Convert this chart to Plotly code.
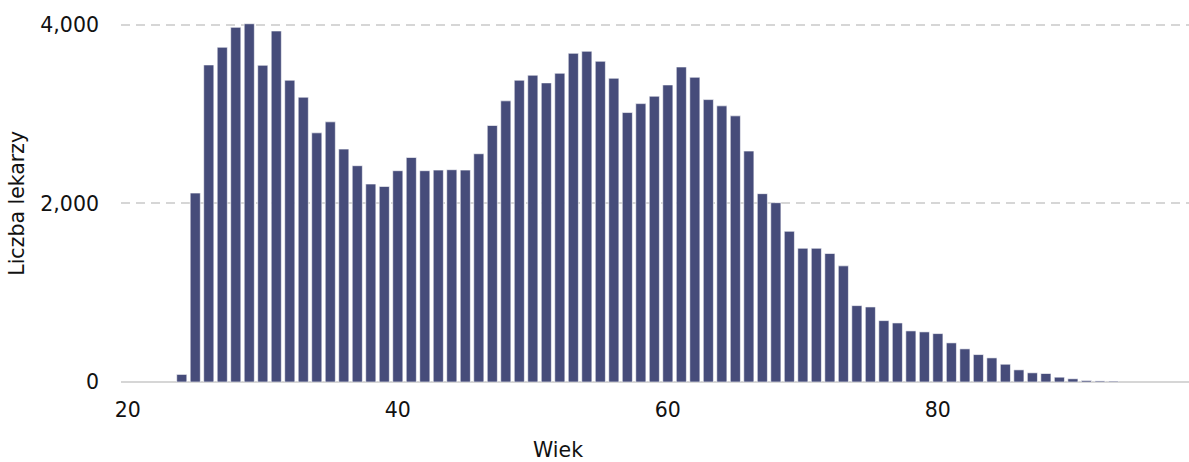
import plotly.graph_objects as go

ages = list(range(24, 94))
doctors = [
    85, 2115, 3549, 3747, 3970, 4010, 3545, 3929, 3378, 3188,   # 24-33
    2789, 2912, 2607, 2421, 2216, 2189, 2365, 2513, 2365, 2372,  # 34-43
    2376, 2372, 2555, 2871, 3147, 3378, 3434, 3348, 3456, 3679,  # 44-53
    3702, 3590, 3400, 3016, 3116, 3199, 3325, 3526, 3411, 3161,  # 54-63
    3091, 2979, 2585, 2108, 2007, 1687, 1497, 1497, 1438, 1300,  # 64-73
    855, 840, 687, 661, 572, 561, 542, 438, 371, 307,            # 74-83
    270, 199, 136, 103, 95, 54, 36, 17, 12, 10,                  # 84-93
]

x_title = "Wiek"
y_title = "Liczba lekarzy"

FONT = "DejaVu Sans"
fsize = 20.5

fig = go.Figure(go.Bar(
    x=ages, y=doctors,
    marker=dict(color="#464c7a", line=dict(color="rgba(255,255,255,0.6)", width=1)),
))

fig.update_layout(
    width=1189, height=462,
    margin=dict(l=121, r=0, t=20, b=80),
    plot_bgcolor="white", paper_bgcolor="white",
    bargap=0.25,
    showlegend=False,
    font=dict(family=FONT, size=fsize, color="#111111"),
    xaxis=dict(
        range=[19.5, 98.6], tick0=0, dtick=20,
        showgrid=False, zeroline=False, showline=False,
        ticks="", ticklabelstandoff=13,
        tickfont=dict(family=FONT, size=fsize, color="#111111"),
    ),
    yaxis=dict(
        range=[0, 4052], tick0=0, dtick=2000, tickformat=",",
        showgrid=True, gridcolor="#d6d6d6", gridwidth=2, griddash="9px,6px",
        zeroline=True, zerolinecolor="#d6d6d6", zerolinewidth=2,
        showline=False, ticks="", ticklabelstandoff=21,
        tickfont=dict(family=FONT, size=fsize, color="#111111"),
    ),
    annotations=[
        dict(text=x_title, xref="paper", yref="paper", x=(558 - 121) / 1068,
             y=(382.5 - 451) / 362.5, xanchor="center", yanchor="middle",
             showarrow=False, font=dict(family=FONT, size=fsize, color="#111111")),
        dict(text=y_title, xref="paper", yref="paper", x=(17 - 121) / 1068,
             y=(382.5 - 204) / 362.5, xanchor="center", yanchor="middle",
             textangle=-90, showarrow=False,
             font=dict(family=FONT, size=fsize, color="#111111")),
    ],
)

fig.write_html("out.html", config={"displayModeBar": False},
               post_script="document.body.style.margin='0';")
